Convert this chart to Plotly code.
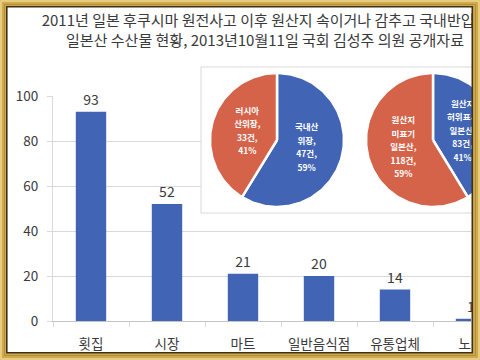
import numpy as np
import plotly.graph_objects as go

# ---------------- data ----------------
title_lines = ["2011년 일본 후쿠시마 원전사고 이후 원산지 속이거나 감추고 국내반입된",
               "일본산 수산물 현황, 2013년10월11일 국회 김성주 의원 공개자료"]
categories = ["횟집", "시장", "마트", "일반음식점", "유통업체", "노점"]
counts = [93, 52, 21, 20, 14, 1]
y_ticks = [0, 20, 40, 60, 80, 100]

pie1_names = ["국내산\n위장", "러시아\n산위장"]
pie1_counts = [47, 33]
pie2_names = ["원산지\n허위표시\n일본산", "원산지\n미표기\n일본산"]
pie2_counts = [83, 118]

# ---------------- styles ----------------
W, H = 480, 360
FONT = "Noto Sans CJK KR"
BLUE = "#4165b4"
RED = "#d4634a"
TXT = "#3a3a3a"
GRID = "#d9d9d9"


def px(x):
    return x / W


def py(y):
    return 1 - y / H


fig = go.Figure()

# main bar chart
fig.add_trace(go.Bar(
    x=categories, y=counts, width=0.4, marker=dict(color=BLUE, line=dict(width=0)),
    text=counts, textposition="outside", cliponaxis=False, constraintext="none",
    textfont=dict(family=FONT, size=14, color=TXT), hoverinfo="skip", showlegend=False,
))

# inset box (white panel)
bx0, bx1, by0, by1 = 201, 490, 67, 213
fig.add_trace(go.Scatter(
    x=[bx1, bx0, bx0, bx1, bx1], y=[by0, by0, by1, by1, by0], xaxis="x2", yaxis="y2",
    mode="lines", fill="toself", fillcolor="white", line=dict(color=GRID, width=1),
    hoverinfo="skip", showlegend=False,
))


def add_pie(cx, cy, r, names, vals, colors):
    total = sum(vals)
    start = 0.0
    labels = []
    for name, v, col in zip(names, vals, colors):
        frac = v / total
        a = np.linspace(start, start + frac, max(int(frac * 240), 8)) * 2 * np.pi
        xs = np.concatenate([[cx], cx + r * np.sin(a), [cx]])
        ys = np.concatenate([[cy], cy - r * np.cos(a), [cy]])
        fig.add_trace(go.Scatter(
            x=xs, y=ys, xaxis="x2", yaxis="y2", mode="lines", fill="toself",
            fillcolor=col, line=dict(color="white", width=2.5),
            hoverinfo="skip", showlegend=False,
        ))
        mid = (start + frac / 2) * 2 * np.pi
        lx = cx + 0.46 * r * np.sin(mid)
        ly = cy - 0.46 * r * np.cos(mid)
        nl = name.split("\n")
        lines = nl[:-1] + [nl[-1] + ","] + [f"{v}건,", f"{round(frac * 100)}%"]
        n = len(lines)
        for i, t in enumerate(lines):
            labels.append((lx, ly + (i - (n - 1) / 2) * 13.5, t))
        start += frac
    fig.add_trace(go.Scatter(
        x=[l[0] for l in labels], y=[l[1] for l in labels], text=[l[2] for l in labels],
        xaxis="x2", yaxis="y2", mode="text", cliponaxis=True,
        textfont=dict(family=FONT, size=8.5, color="white", weight="bold"),
        hoverinfo="skip", showlegend=False,
    ))


add_pie(277, 140, 67, pie1_names, pie1_counts, [BLUE, RED])
add_pie(433, 140, 67, pie2_names, pie2_counts, [BLUE, RED])

# title as clipped text (single text element, two lines)
fig.add_trace(go.Scatter(
    x=[265], y=[32], text=["<br>".join(title_lines)], xaxis="x3", yaxis="y3",
    mode="text", cliponaxis=True,
    textfont=dict(family=FONT, size=15, color=TXT), hoverinfo="skip", showlegend=False,
))

hidden = dict(visible=False, showgrid=False, zeroline=False, automargin=False, fixedrange=True)

# frame shapes
GOLD = "#cfa94e"
shapes = []
for (x0, y0, x1, y1) in [(0, 0, 480, 6.5), (0, 353, 480, 360), (0, 0, 6.5, 360), (472.5, 0, 480, 360)]:
    shapes.append(dict(type="rect", xref="paper", yref="paper", layer="above",
                       x0=px(x0), x1=px(x1), y0=py(y0), y1=py(y1),
                       fillcolor=GOLD, line=dict(width=0)))
shapes.append(dict(type="rect", xref="paper", yref="paper", layer="above",
                   x0=px(1), x1=px(479), y0=py(1), y1=py(359),
                   line=dict(color="#efd991", width=1.5)))
shapes.append(dict(type="rect", xref="paper", yref="paper", layer="above",
                   x0=px(4.5), x1=px(475.5), y0=py(4.5), y1=py(355.5),
                   line=dict(color="#b58d35", width=1)))
shapes.append(dict(type="rect", xref="paper", yref="paper", layer="above",
                   x0=px(6.8), x1=px(472.3), y0=py(6.8), y1=py(352.7),
                   line=dict(color="#3d3218", width=1.6)))

fig.update_layout(
    width=W, height=H, margin=dict(l=0, r=0, t=0, b=0),
    paper_bgcolor="white", plot_bgcolor="rgba(0,0,0,0)",
    showlegend=False, bargap=0.6,
    font=dict(family=FONT, color=TXT),
    xaxis=dict(domain=[px(53), px(471)], range=[-0.5, 5.0], type="category",
               ticks="outside", tickson="boundaries", ticklen=5, tickcolor=GRID,
               showline=True, linecolor="#c4c4c4", linewidth=1, showgrid=False,
               tickfont=dict(family=FONT, size=13.5, color=TXT), ticklabelstandoff=11,
               automargin=False, fixedrange=True),
    yaxis=dict(domain=[py(321), py(96)], range=[0, 100], tickvals=y_ticks,
               ticks="outside", ticklen=5, tickcolor=GRID,
               showline=True, linecolor=GRID, showgrid=True, gridcolor=GRID, gridwidth=1,
               zeroline=False, tickfont=dict(family=FONT, size=13.5, color=TXT),
               ticklabelstandoff=6, automargin=False, fixedrange=True),
    xaxis2=dict(domain=[px(199), px(472)], range=[199, 472], anchor="y2", **hidden),
    yaxis2=dict(domain=[py(215), py(65)], range=[215, 65], anchor="x2", **hidden),
    xaxis3=dict(domain=[px(7), px(472)], range=[7, 472], anchor="y3", **hidden),
    yaxis3=dict(domain=[py(62), py(0)], range=[62, 0], anchor="x3", **hidden),
    shapes=shapes,
)

fig.write_html(
    "out.html",
    config={"displayModeBar": False},
    post_script="document.body.style.margin='0';document.body.style.overflow='hidden';",
)
